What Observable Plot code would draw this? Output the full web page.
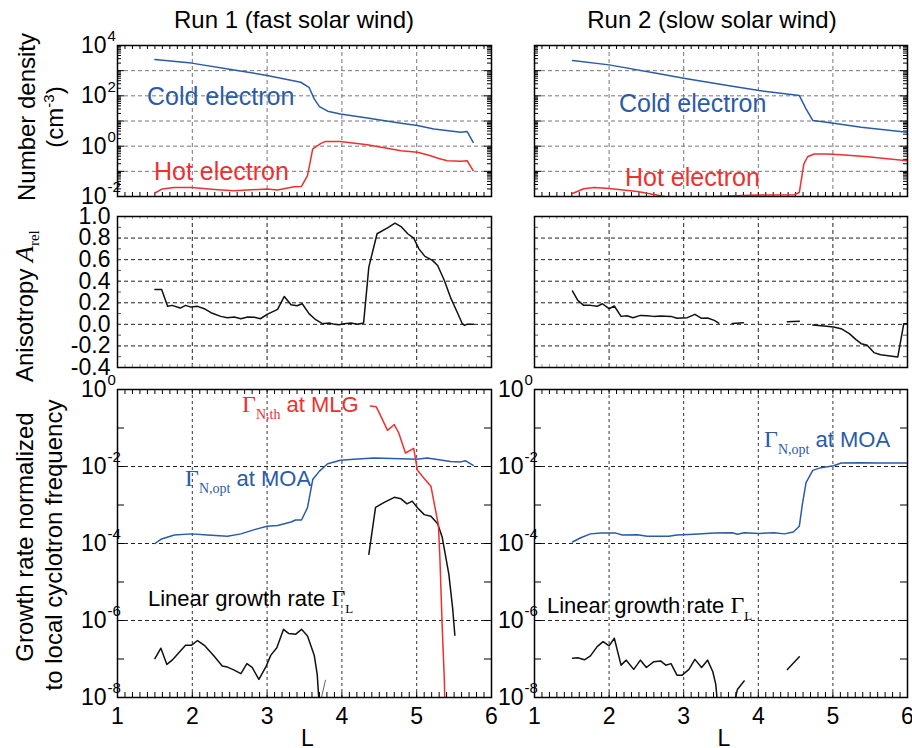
<!DOCTYPE html>
<html><head><meta charset="utf-8">
<script src="https://cdn.jsdelivr.net/npm/d3@7"></script>
<script src="https://cdn.jsdelivr.net/npm/@observablehq/plot@0.6"></script>
<style>
body{margin:0;background:#fff;}
#chart{position:relative;width:912px;height:748px;overflow:hidden;background:#fff;}
#chart svg{position:absolute;}
</style></head><body><div id="chart"></div>
<script>
// ---------- DATA (L, value); density and growth rates given as log10 values ----------
const xTickLabels = [1, 2, 3, 4, 5, 6];
const densityDecadeLabels = [4, 2, 0, -2];
const growthDecadeLabels = [0, -2, -4, -6, -8];
const anisoTickLabels = [1.0, 0.8, 0.6, 0.4, 0.2, 0.0, -0.2, -0.4];

const run1Cold = [[1.50,3.44],[1.99,3.30],[2.56,3.03],[3.00,2.81],[3.45,2.54],[3.56,2.34],[3.63,1.88],[3.70,1.57],[3.81,1.39],[3.98,1.28],[4.34,1.12],[4.79,0.91],[5.01,0.82],[5.23,0.68],[5.59,0.55],[5.675,0.58],[5.755,0.15]];
const run1Hot = [[1.50,-1.86],[1.60,-1.70],[1.76,-1.64],[1.99,-1.64],[2.30,-1.72],[2.56,-1.77],[3.00,-1.70],[3.14,-1.74],[3.36,-1.61],[3.46,-1.60],[3.54,-1.17],[3.61,-0.11],[3.72,0.11],[3.78,0.19],[3.98,0.19],[4.34,0.06],[4.79,-0.18],[5.01,-0.24],[5.14,-0.34],[5.32,-0.51],[5.41,-0.58],[5.59,-0.60],[5.675,-0.58],[5.755,-0.97]];
const run2Cold = [[1.51,3.40],[2.00,3.23],[2.69,2.87],[3.00,2.70],[3.59,2.41],[4.01,2.21],[4.55,2.01],[4.64,1.48],[4.73,1.02],[4.84,0.98],[5.01,0.91],[5.38,0.75],[6.00,0.55]];
const run2Hot = [[1.51,-1.88],[1.66,-1.69],[1.80,-1.64],[2.00,-1.68],[2.38,-1.80],[2.69,-1.97],[2.80,-2.03],[3.00,-2.10],[3.25,-2.03],[3.59,-1.98],[4.01,-1.94],[4.48,-1.93],[4.55,-1.84],[4.61,-0.71],[4.66,-0.42],[4.75,-0.31],[4.93,-0.31],[5.11,-0.34],[5.47,-0.42],[6.00,-0.58]];

const run1Aniso = [[1.50,0.324],[1.59,0.324],[1.67,0.167],[1.73,0.176],[1.84,0.151],[1.91,0.176],[1.98,0.16],[2.07,0.167],[2.16,0.145],[2.25,0.108],[2.38,0.074],[2.47,0.062],[2.56,0.068],[2.65,0.052],[2.74,0.068],[2.83,0.065],[2.91,0.052],[3.00,0.093],[3.14,0.139],[3.23,0.259],[3.32,0.182],[3.40,0.173],[3.47,0.191],[3.56,0.099],[3.65,0.043],[3.74,0.006],[3.83,0.012],[3.90,0.0],[3.96,-0.003],[4.03,0.006],[4.12,0.012],[4.21,0.0],[4.29,0.012],[4.36,0.531],[4.47,0.84],[4.61,0.895],[4.71,0.938],[4.79,0.907],[4.88,0.84],[4.96,0.80],[5.03,0.70],[5.11,0.63],[5.21,0.593],[5.28,0.546],[5.37,0.407],[5.45,0.253],[5.54,0.114],[5.61,0.006],[5.64,-0.01],[5.67,0.0],[5.76,0.0]];
const run2Aniso = [[1.51,0.309],[1.58,0.222],[1.66,0.176],[1.75,0.176],[1.84,0.167],[1.91,0.191],[2.00,0.145],[2.07,0.170],[2.16,0.074],[2.24,0.080],[2.32,0.062],[2.42,0.083],[2.51,0.080],[2.60,0.074],[2.69,0.077],[2.83,0.074],[2.91,0.056],[3.05,0.062],[3.15,0.093],[3.24,0.056],[3.32,0.059],[3.41,0.037],[3.47,0.012],[3.55,null],[3.65,0.009],[3.80,0.015],[4.10,null],[4.39,0.025],[4.55,0.028],[4.65,null],[4.73,-0.006],[4.88,-0.015],[5.01,-0.025],[5.11,-0.04],[5.22,-0.086],[5.31,-0.142],[5.38,-0.179],[5.46,-0.194],[5.55,-0.262],[5.64,-0.281],[5.87,-0.302],[5.95,0.006],[6.00,0.006]];

const run1Opt = [[1.50,-4.00],[1.58,-3.89],[1.76,-3.78],[1.99,-3.75],[2.20,-3.78],[2.47,-3.81],[2.65,-3.75],[2.83,-3.64],[3.00,-3.55],[3.14,-3.53],[3.32,-3.44],[3.38,-3.39],[3.46,-3.39],[3.54,-3.07],[3.61,-2.34],[3.70,-2.12],[3.81,-1.93],[3.98,-1.84],[4.16,-1.81],[4.43,-1.78],[4.79,-1.80],[5.00,-1.81],[5.14,-1.78],[5.32,-1.83],[5.45,-1.87],[5.59,-1.88],[5.65,-1.85],[5.755,-1.97]];
const run1Nth = [[4.38,-0.43],[4.46,-0.45],[4.52,-0.69],[4.61,-1.06],[4.70,-0.91],[4.76,-1.13],[4.85,-1.65],[4.96,-1.53],[5.01,-2.10],[5.10,-2.31],[5.19,-2.51],[5.25,-3.12],[5.29,-3.51],[5.31,-4.37],[5.34,-6.10],[5.37,-7.57],[5.38,-8.50]];
const run1GammaL = [[1.50,-6.99],[1.58,-6.72],[1.66,-7.14],[1.73,-7.03],[1.91,-6.64],[1.99,-6.64],[2.07,-6.52],[2.17,-6.66],[2.29,-6.92],[2.40,-7.18],[2.47,-7.21],[2.56,-7.29],[2.65,-7.38],[2.73,-7.12],[2.80,-7.22],[2.89,-7.53],[2.98,-7.22],[3.05,-6.90],[3.13,-6.71],[3.22,-6.23],[3.29,-6.34],[3.38,-6.36],[3.46,-6.23],[3.54,-6.40],[3.63,-6.90],[3.67,-7.40],[3.70,-8.30],[4.00,null],[4.36,-4.28],[4.45,-3.06],[4.56,-2.94],[4.70,-2.80],[4.79,-2.84],[4.87,-2.97],[4.94,-2.90],[5.01,-3.07],[5.10,-3.25],[5.19,-3.29],[5.28,-3.49],[5.34,-3.83],[5.43,-4.80],[5.48,-5.67],[5.51,-6.38]];
const run1GammaLFaint = [[3.715,-8.10],[3.78,-7.55]];
const run2Opt = [[1.51,-3.96],[1.62,-3.85],[1.75,-3.75],[1.89,-3.73],[2.09,-3.73],[2.18,-3.78],[2.38,-3.77],[2.51,-3.81],[2.80,-3.81],[2.91,-3.78],[3.14,-3.76],[3.41,-3.73],[3.65,-3.72],[3.72,-3.76],[3.81,-3.72],[4.01,-3.74],[4.21,-3.72],[4.35,-3.75],[4.47,-3.70],[4.55,-3.55],[4.59,-2.99],[4.64,-2.42],[4.73,-2.10],[4.84,-2.03],[5.01,-1.98],[5.11,-1.91],[5.38,-1.90],[5.64,-1.91],[6.00,-1.91]];
const run2GammaL = [[1.51,-6.98],[1.58,-6.97],[1.67,-7.02],[1.75,-6.92],[1.84,-6.68],[1.92,-6.55],[2.00,-6.66],[2.07,-6.46],[2.16,-7.16],[2.23,-7.03],[2.33,-7.27],[2.42,-7.03],[2.50,-7.22],[2.60,-7.07],[2.69,-7.05],[2.76,-7.16],[2.83,-7.12],[2.91,-7.42],[2.98,-7.42],[3.07,-7.27],[3.15,-7.01],[3.24,-7.22],[3.32,-7.03],[3.39,-7.33],[3.43,-7.66],[3.46,-8.30],[3.55,null],[3.66,-8.30],[3.72,-7.79],[3.81,-7.57],[4.10,null],[4.39,-7.27],[4.55,-6.94]];

// ---------- STYLE / LAYOUT ----------
const SANS = '"Liberation Sans", Arial, Helvetica, sans-serif';
const SERIF = '"Liberation Serif", "Times New Roman", serif';
const BLUE = "#2b5ba8", RED = "#ee3030", BLACK = "#111";
const TICK_FS = 23;
const cols = [{x0:117, x1:491, left:0, mR:9}, {x0:534, x1:907, left:470, mR:5}];
const rows = [{y0:45, y1:196, top:0, mB:10}, {y0:216, y1:367, top:206, mB:10}, {y0:389, y1:697, top:377, mB:51}];
const chart = document.getElementById("chart");

const logY = v => v == null ? NaN : Math.pow(10, v);
const linY = v => v == null ? NaN : v;

function xTickMarks(innerH, len, stroke) {
  const vals = d3.range(10, 61).map(d => d / 10);
  return [
    Plot.tickX(vals, {x: d => d, insetTop: innerH - len, stroke, strokeWidth: 1}),
    Plot.tickX(vals, {x: d => d, insetBottom: innerH - len, stroke, strokeWidth: 1})
  ];
}
function yTickMarks(vals, innerW, len, stroke = "#000") {
  return [
    Plot.tickY(vals, {y: d => d, insetRight: innerW - len, stroke, strokeWidth: 1}),
    Plot.tickY(vals, {y: d => d, insetLeft: innerW - len, stroke, strokeWidth: 1})
  ];
}
function decadeLabels(decs) {
  return [
    Plot.text(decs, {y: d => Math.pow(10, d), text: () => "10", frameAnchor: "left", dx: -11, textAnchor: "end", lineAnchor: "middle", fontSize: TICK_FS, fill: "#000"}),
    Plot.text(decs, {y: d => Math.pow(10, d), text: d => (d < 0 ? "-" + (-d) : String(d)), frameAnchor: "left", dx: -10, dy: -9, textAnchor: "start", lineAnchor: "middle", fontSize: 15, fill: "#000"})
  ];
}
function xLabels() {
  return [
    Plot.text(xTickLabels, {x: d => d, text: d => String(d), frameAnchor: "bottom", dy: 19, lineAnchor: "middle", fontSize: TICK_FS, fill: "#000"}),
    Plot.text(["L"], {text: d => d, frameAnchor: "bottom", dx: 3, dy: 41, lineAnchor: "middle", fontSize: 23, fill: "#000"})
  ];
}
function line(data, map, stroke, w = 1.5) {
  return Plot.line(data, {x: d => d[0], y: d => map(d[1]), stroke, strokeWidth: w, clip: true});
}

function panel(ci, ri, y, marks) {
  const C = cols[ci], R = rows[ri];
  const width = C.x1 - C.left + C.mR;
  const height = R.y1 - R.top + R.mB;
  const svg = Plot.plot({
    width, height,
    marginLeft: C.x0 - C.left, marginRight: C.mR,
    marginTop: R.y0 - R.top, marginBottom: R.mB,
    x: {domain: [1, 6], axis: null},
    y: {...y, axis: null},
    style: {background: "transparent", overflow: "visible", fontFamily: SANS},
    marks
  });
  svg.style.left = C.left + "px";
  svg.style.top = R.top + "px";
  chart.appendChild(svg);
}

function densityMarks(ci, cold, hot) {
  const C = cols[ci], R = rows[0];
  const iw = C.x1 - C.x0, ih = R.y1 - R.y0;
  const minor = [];
  for (let k = -2; k < 4; k++) for (let m = 2; m <= 9; m++) minor.push(m * Math.pow(10, k));
  const decades = d3.range(-2, 5).map(k => Math.pow(10, k));
  return [
    Plot.ruleY([1e3, 1e2, 1e1, 1e0, 1e-1], {y: d => d, stroke: "#777", strokeWidth: 1, strokeDasharray: "4,3"}),
    Plot.ruleX([2, 3, 4, 5], {x: d => d, stroke: "#777", strokeWidth: 1, strokeDasharray: "4,3"}),
    ...xTickMarks(ih, 4, "#000"),
    ...yTickMarks(minor, iw, 4),
    ...yTickMarks(decades, iw, 7),
    line(cold, logY, BLUE),
    line(hot, logY, RED),
    Plot.frame({stroke: "#000", strokeWidth: 1.5}),
    ...(ci === 0 ? decadeLabels(densityDecadeLabels) : [])
  ];
}
function anisoMarks(ci, data) {
  const C = cols[ci], R = rows[1];
  const iw = C.x1 - C.x0, ih = R.y1 - R.y0;
  return [
    Plot.ruleY([0.8, 0.6, 0.4, 0.2, 0.0, -0.2], {y: d => d, stroke: "#222", strokeWidth: 1, strokeDasharray: "4,3"}),
    Plot.ruleX([2, 3, 4, 5], {x: d => d, stroke: "#222", strokeWidth: 1, strokeDasharray: "4,3"}),
    ...xTickMarks(ih, 3, "#999"),
    ...yTickMarks(d3.range(-4, 11).map(d => d / 10), iw, 4, "#555"),
    line(data, linY, BLACK),
    Plot.frame({stroke: "#000", strokeWidth: 1.5}),
    ...(ci === 0 ? [Plot.text(anisoTickLabels, {y: d => d, text: d => d.toFixed(1), frameAnchor: "left", dx: -7, textAnchor: "end", lineAnchor: "middle", fontSize: TICK_FS, fill: "#000"})] : [])
  ];
}
function growthMarks(ci, series) {
  const C = cols[ci], R = rows[2];
  const iw = C.x1 - C.x0, ih = R.y1 - R.y0;
  return [
    Plot.ruleY([1e-2, 1e-4, 1e-6], {y: d => d, stroke: "#222", strokeWidth: 1, strokeDasharray: "4,3"}),
    Plot.ruleX([2, 3, 4, 5], {x: d => d, stroke: "#333", strokeWidth: 1, strokeDasharray: "3,3"}),
    ...xTickMarks(ih, 5, "#000"),
    ...yTickMarks(d3.range(-8, 1).map(k => Math.pow(10, k)), iw, 7),
    ...series,
    Plot.frame({stroke: "#000", strokeWidth: 1.5}),
    ...decadeLabels(growthDecadeLabels),
    ...xLabels()
  ];
}

const yDensity = {type: "log", domain: [1e-2, 1e4]};
const yAniso = {type: "linear", domain: [-0.4, 1.0]};
const yGrowth = {type: "log", domain: [1e-8, 1e0]};

panel(0, 0, yDensity, densityMarks(0, run1Cold, run1Hot));
panel(1, 0, yDensity, densityMarks(1, run2Cold, run2Hot));
panel(0, 1, yAniso, anisoMarks(0, run1Aniso));
panel(1, 1, yAniso, anisoMarks(1, run2Aniso));
panel(0, 2, yGrowth, growthMarks(0, [
  line(run1GammaL, logY, BLACK),
  line(run1GammaLFaint, logY, "#666", 1),
  line(run1Opt, logY, BLUE),
  line(run1Nth, logY, RED)
]));
panel(1, 2, yGrowth, growthMarks(1, [
  line(run2GammaL, logY, BLACK),
  line(run2Opt, logY, BLUE)
]));

// ---------- TEXT OVERLAY ----------
const ov = d3.select(chart).append("svg")
  .attr("width", 912).attr("height", 748)
  .style("left", "0px").style("top", "0px")
  .style("font-family", SANS);

function txt(x, y, parts, o = {}) {
  const t = ov.append("text").attr("fill", o.fill || "#000").attr("font-size", o.size || 24)
    .attr("text-anchor", o.anchor || "start");
  if (o.rotate) t.attr("transform", `translate(${x},${y}) rotate(-90)`);
  else t.attr("x", x).attr("y", y);
  for (const p of parts) {
    const s = t.append("tspan").text(p.t);
    if (p.font) s.attr("font-family", p.font);
    if (p.size) s.attr("font-size", p.size);
    if (p.dy) s.attr("dy", p.dy);
    if (p.italic) s.attr("font-style", "italic");
    if (p.fill) s.attr("fill", p.fill);
  }
  return t;
}

txt(294, 28, [{t: "Run 1 (fast solar wind)"}], {anchor: "middle", size: 24});
txt(712, 28, [{t: "Run 2 (slow solar wind)"}], {anchor: "middle", size: 24});

txt(35, 117, [{t: "Number density"}], {rotate: true, anchor: "middle", size: 24});
txt(63, 117, [{t: "(cm"}, {t: "-3", size: 15, dy: -9}, {t: ")", dy: 9}], {rotate: true, anchor: "middle", size: 24});
txt(33, 382, [{t: "Anisotropy "}, {t: "A", font: SERIF, italic: true, size: 26}, {t: "rel", font: SERIF, size: 15, dy: 6}], {rotate: true, anchor: "start", size: 24});
txt(33, 537, [{t: "Growth rate normalized"}], {rotate: true, anchor: "middle", size: 24});
txt(62, 545, [{t: "to local cyclotron frequency"}], {rotate: true, anchor: "middle", size: 24});

txt(147, 105, [{t: "Cold electron"}], {fill: BLUE, size: 25});
txt(154, 180, [{t: "Hot electron"}], {fill: RED, size: 25});
txt(619, 112, [{t: "Cold electron"}], {fill: BLUE, size: 25});
txt(625, 186, [{t: "Hot electron"}], {fill: RED, size: 25});

txt(242, 412, [{t: "Γ", font: SERIF, size: 24}, {t: "N,th", font: SERIF, size: 14, dy: 7}, {t: " at MLG", dy: -7}], {fill: RED, size: 22});
txt(185, 486, [{t: "Γ", font: SERIF, size: 24}, {t: "N,opt", font: SERIF, size: 14, dy: 7}, {t: " at MOA", dy: -7}], {fill: BLUE, size: 22});
txt(764, 447, [{t: "Γ", font: SERIF, size: 24}, {t: "N,opt", font: SERIF, size: 14, dy: 7}, {t: " at MOA", dy: -7}], {fill: BLUE, size: 22});
txt(148, 606, [{t: "Linear growth rate "}, {t: "Γ", font: SERIF, size: 24}, {t: "L", font: SERIF, size: 13, dy: 7}], {size: 22});
txt(547, 613, [{t: "Linear growth rate "}, {t: "Γ", font: SERIF, size: 24}, {t: "L", font: SERIF, size: 13, dy: 7}], {size: 22});
</script></body></html>
